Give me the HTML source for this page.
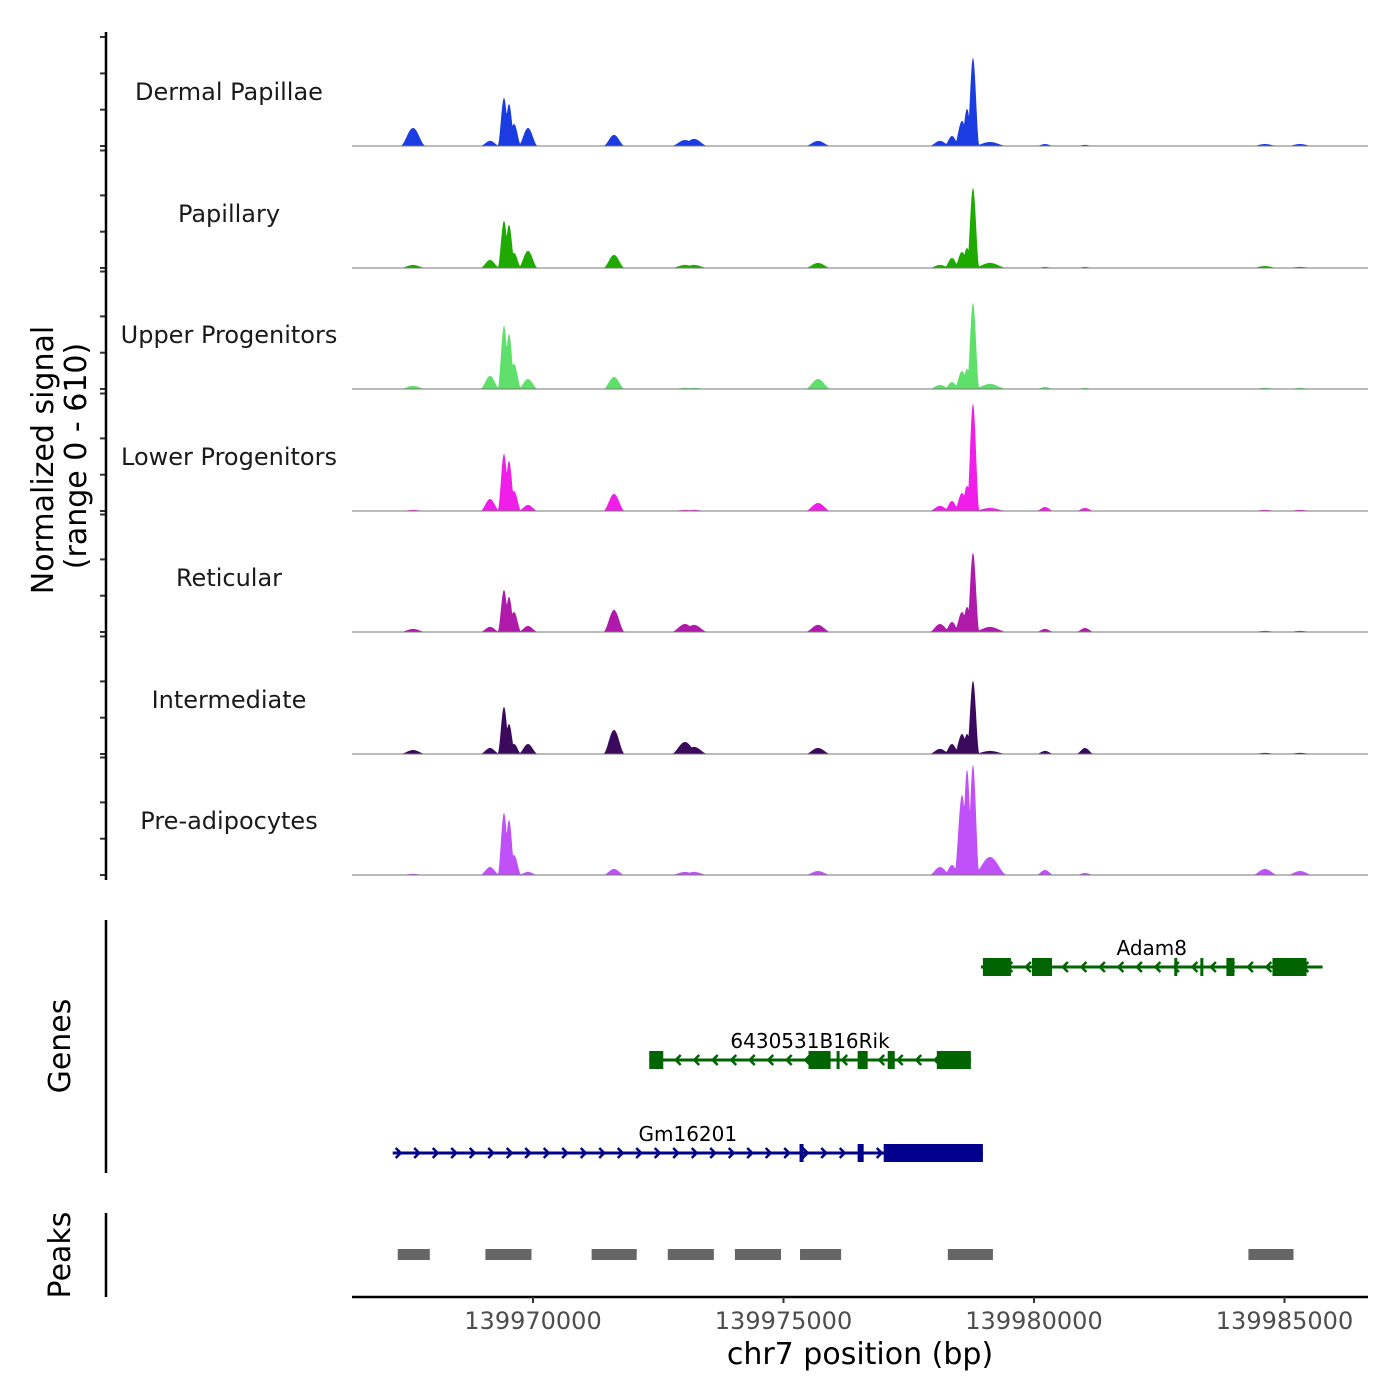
<!DOCTYPE html>
<html><head><meta charset="utf-8"><style>
body{margin:0;background:#fff}
svg{display:block;font-family:"DejaVu Sans","Liberation Sans",sans-serif}
</style></head><body>
<svg id="chart" width="1400" height="1400" viewBox="0 0 1400 1400" xmlns="http://www.w3.org/2000/svg">
<g id="tracks"></g>
<g id="genes"></g>
<g id="peaks"></g>
<g id="axes"></g>
</svg>
<script>
const trackNames = ["Dermal Papillae","Papillary","Upper Progenitors","Lower Progenitors","Reticular","Intermediate","Pre-adipocytes"];
const trackColors = ["#1a3ce0","#1eaa00","#5ee06a","#f01ee8","#b01aaa","#3b0a5c","#c050f8"];
const peakPositions = [139967605,139969142,139969421,139969521,139969621,139969900,139971617,139973034,139973214,139975689,139978124,139978363,139978563,139978663,139978782,139979122,139980220,139981018,139984611,139985310];
const peakHalfWidths = [260,200,130,130,150,200,220,280,280,260,220,160,160,130,130,350,180,180,260,260];
const dermalValues = [99,28,264,231,121,99,61,33,39,28,28,55,138,204,484,22,11,6,11,11];
const papillaryValues = [17,44,259,237,83,94,72,17,17,28,17,55,88,110,440,28,6,6,11,6];
const upperValues = [17,72,347,303,138,55,66,6,6,55,22,39,99,110,473,28,11,6,6,6];
const lowerValues = [6,66,314,275,110,33,94,6,6,44,28,55,99,138,589,17,22,17,6,6];
const reticularValues = [17,28,231,193,110,33,121,44,39,39,44,55,110,138,435,28,17,22,6,6];
const intermediateValues = [22,33,259,165,55,55,132,66,39,33,28,55,110,110,402,17,17,33,6,6];
const preadipoValues = [6,44,341,303,110,17,33,17,17,22,44,55,440,578,605,99,28,11,33,22];
const allValues = [dermalValues,papillaryValues,upperValues,lowerValues,reticularValues,intermediateValues,preadipoValues];
const xTicks = [139970000,139975000,139980000,139985000];
const peakStarts = [139967300,139969050,139971170,139972690,139974030,139975330,139978280,139984280];
const peakEnds = [139967940,139969970,139972070,139973610,139974950,139976150,139979180,139985180];
const genes = [
 {name:"Adam8",strand:-1,start:139978940,end:139985760,row:0,color:"#006400",exons:[[139978980,139979540],[139979960,139980360],[139982800,139982840],[139983320,139983360],[139983840,139984000],[139984760,139985440]]},
 {name:"6430531B16Rik",strand:-1,start:139972320,end:139978740,row:1,color:"#006400",exons:[[139972320,139972600],[139975500,139975940],[139976060,139976120],[139976480,139976680],[139977080,139977220],[139978060,139978740]]},
 {name:"Gm16201",strand:1,start:139967200,end:139978980,row:2,color:"#00008B",exons:[[139975320,139975400],[139976480,139976600],[139977000,139978980]]}
];
const NS="http://www.w3.org/2000/svg";
function mk(tag,attrs,parent){const e=document.createElementNS(NS,tag);for(const k in attrs)e.setAttribute(k,attrs[k]);parent.appendChild(e);return e;}
const xs = bp => 533 + (bp - 139970000) * 0.0501;
const yMax = 610, trackH = 111;
const baselines = [146,268,389,511,632,754,875];
const tracksG=document.getElementById('tracks'), genesG=document.getElementById('genes'), peaksG=document.getElementById('peaks'), axesG=document.getElementById('axes');

allValues.forEach((vals,t)=>{
  const b=baselines[t];
  const ys = v => b - v/yMax*trackH;
  let pts=[];
  for(let px=398;px<=1325;px+=0.5){
    const bp=139970000+(px-533)/0.0501;
    let v=3;
    peakPositions.forEach((p,i)=>{const d=Math.abs(bp-p)/peakHalfWidths[i];if(d<1){const s=0.5+0.5*Math.cos(Math.PI*d);v=Math.max(v,vals[i]*s);}});
    pts.push(px.toFixed(1)+","+ys(v).toFixed(1));
  }
  const poly=mk('polygon',{points:"398,"+b+" "+pts.join(" ")+" 1325,"+b,fill:trackColors[t]},tracksG);
  
  
  const bl=mk('line',{x1:352,x2:1368,y1:b,y2:b,stroke:"#777","stroke-width":1},tracksG);
  
  
  const lb=mk('text',{x:229,y:b-46,"text-anchor":"middle","font-size":24,fill:"#1a1a1a"},tracksG);
  lb.textContent=trackNames[t];
  
  
  const tk = t===0 ? [0,36.3,72.6,109] : [0,36.3,72.6,117.5];
  tk.forEach(o=>{const l=mk('line',{x1:100,x2:106,y1:b-o,y2:b-o,stroke:"#333","stroke-width":2},axesG);
    
    });
});

const rowY=[967,1060,1153];
genes.forEach(g=>{
  const y=rowY[g.row];
  const x1=xs(g.start), x2=xs(g.end);
  const ln=mk('line',{x1:x1,x2:x2,y1:y,y2:y,stroke:g.color,"stroke-width":3},genesG);
  
  
  for(let ax=x1+8;ax<x2-4;ax+=18.5){
    const d=g.strand*5;
    const p=mk('polyline',{points:(ax-d)+","+(y-5)+" "+ax+","+y+" "+(ax-d)+","+(y+5),fill:"none",stroke:g.color,"stroke-width":2.5},genesG);
    
    
  }
  g.exons.forEach(e=>{const r=mk('rect',{x:xs(e[0]),y:y-9,width:Math.max(3,xs(e[1])-xs(e[0])),height:18,fill:g.color},genesG);
    
    });
  const tx=mk('text',{x:(x1+x2)/2,y:y-12,"text-anchor":"middle","font-size":20,fill:"#000"},genesG);
  tx.textContent=g.name;
  
  
});

peakStarts.forEach((s,i)=>{
  const r=mk('rect',{x:xs(s),y:1249,width:xs(peakEnds[i])-xs(s),height:11,fill:"#666"},peaksG);
  
  
});

[[32,880],[920,1173],[1213,1297]].forEach(a=>{const l=mk('line',{x1:106,x2:106,y1:a[0],y2:a[1],stroke:"#000","stroke-width":2.5},axesG);
  
  });
const xl=mk('line',{x1:352,x2:1368,y1:1297,y2:1297,stroke:"#000","stroke-width":2.5},axesG);


xTicks.forEach(v=>{
  const l=mk('line',{x1:xs(v),x2:xs(v),y1:1297,y2:1303,stroke:"#333","stroke-width":2},axesG);
  
  
  const t=mk('text',{x:xs(v),y:1329,"text-anchor":"middle","font-size":24,fill:"#4d4d4d"},axesG);
  t.textContent=v;
  
  
});
function txt(s,attrs,name){const t=mk('text',attrs,axesG);t.textContent=s;}
txt("chr7 position (bp)",{x:860,y:1364,"text-anchor":"middle","font-size":30,fill:"#000"},"x-axis-title");
txt("Normalized signal",{x:0,y:0,transform:"translate(53,460) rotate(-90)","text-anchor":"middle","font-size":30,fill:"#000"},"y-axis-title");
txt("(range 0 - 610)",{x:0,y:0,transform:"translate(86,456) rotate(-90)","text-anchor":"middle","font-size":30,fill:"#000"},"y-axis-subtitle");
txt("Genes",{x:0,y:0,transform:"translate(70,1046) rotate(-90)","text-anchor":"middle","font-size":30,fill:"#000"},"genes-axis-title");
txt("Peaks",{x:0,y:0,transform:"translate(70,1255) rotate(-90)","text-anchor":"middle","font-size":30,fill:"#000"},"peaks-axis-title");
</script>
</body></html>
